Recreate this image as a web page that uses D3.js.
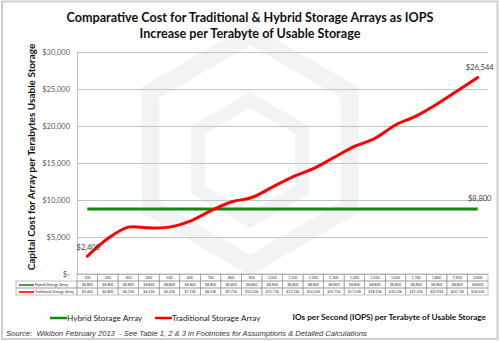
<!DOCTYPE html>
<html><head><meta charset="utf-8">
<script src="https://cdn.jsdelivr.net/npm/d3@7"></script>
<style>body{margin:0;background:#fff}svg{display:block}</style>
</head><body><svg id="c" width="500" height="341"></svg>
<script>
const categories = [100,200,300,400,500,600,700,800,900,1000,1100,1200,1300,1400,1500,1600,1700,1800,1900,2000];
const hybridValues = [8800,8800,8800,8800,8800,8800,8800,8800,8800,8800,8800,8800,8800,8800,8800,8800,8800,8800,8800,8800];
const traditionalValues = [2400,4800,6336,6236,6336,7136,8536,9736,10336,11736,13136,14236,15736,17236,18336,20136,21336,22936,24736,26544];
const yTicks = [0,5000,10000,15000,20000,25000,30000];
const seriesNames = ["Hybrid Storage Array","Traditional Storage Array"];
const seriesColors = ["#128a12","#ff0000"];

(function(){
const svg = d3.select("#c");
const pL=77,pR=488,pT=52,pB=274;
const x = d3.scaleBand().domain(categories).range([pL,pR]);
const y = d3.scaleLinear().domain([0,30000]).range([pB,pT]);
const fmt = d3.format(",");
const money = v => v===0 ? "$-" : "$"+fmt(v);
const font = "Lato, 'Open Sans', sans-serif";

// frame
svg.append("rect").attr("x",2).attr("y",1.5).attr("width",495.5).attr("height",337.5)
  .attr("fill","#fff").attr("stroke","#cfcfcf").attr("stroke-width",2);

// watermark
const wm = svg.append("g").attr("fill","none").attr("stroke","#f3f3f5").attr("stroke-width",18);
const hex = (cx,cy,r)=>d3.range(6).map(i=>{const a=Math.PI/3*i-Math.PI/2;return [cx+r*Math.cos(a),cy+r*Math.sin(a)];});
wm.append("path").attr("d","M"+hex(250,150,115).join("L")+"Z");
wm.append("path").attr("d","M"+hex(250,160,60).join("L")+"Z").attr("stroke-width",14);

// title
const t = svg.append("text").attr("text-anchor","middle").attr("font-family",font)
  .attr("font-weight","bold").attr("font-size",12.6).attr("fill","#111");
t.append("tspan").attr("x",250).attr("y",22).text("Comparative Cost for Traditional & Hybrid Storage Arrays as IOPS");
t.append("tspan").attr("x",250).attr("y",38).text("Increase per Terabyte of Usable Storage");

// y axis with gridlines
const ya = svg.append("g").attr("transform",`translate(${pL},0)`)
  .call(d3.axisLeft(y).tickValues(yTicks).tickFormat(money).tickSize(-(pR-pL)).tickPadding(7));
ya.select(".domain").attr("stroke","#bdbdbd");
ya.selectAll(".tick line").attr("stroke","#c4c4c4").attr("stroke-width",1);
ya.selectAll(".tick text").attr("font-family",font).attr("font-size",7.5).attr("fill","#595959");
ya.selectAll(".tick").filter(d=>d===0).select("line").attr("stroke","none");

svg.append("text").attr("transform","translate(35,157) rotate(-90)").attr("text-anchor","middle")
  .attr("font-family",font).attr("font-weight","bold").attr("font-size",10).attr("fill","#111")
  .text("Capital Cost for Array per Terabytes Usable Storage");

// lines
const cx = d => x(d)+x.bandwidth()/2;
const line = d3.line().x((d,i)=>cx(categories[i])).y(d=>y(d));
svg.append("path").datum(hybridValues).attr("d",line).attr("fill","none")
  .attr("stroke",seriesColors[0]).attr("stroke-width",3);
svg.append("path").datum(traditionalValues).attr("d",line.curve(d3.curveCatmullRom.alpha(0.5)))
  .attr("fill","none").attr("stroke",seriesColors[1]).attr("stroke-width",3).attr("stroke-linecap","round");

// data labels
const lab = (xx,yy,txt,anchor)=>svg.append("text").attr("x",xx).attr("y",yy).attr("text-anchor",anchor||"middle")
  .attr("font-family",font).attr("font-size",7.5).attr("fill","#404040").text(txt);
const n = categories.length-1;
lab(cx(categories[0])+1, y(traditionalValues[0])-6, money(traditionalValues[0]));
lab(cx(categories[n])+2, y(traditionalValues[n])-8, money(traditionalValues[n]));
lab(cx(categories[n])+2, y(hybridValues[n])-8, money(hybridValues[n]));

// data table
const rowH = 7, tTop = pB, labelLeft = 16;
const tg = svg.append("g").attr("font-family",font).attr("font-size",3.6).attr("fill","#333");
categories.forEach((c,i)=>{
  tg.append("rect").attr("x",x(c)).attr("y",tTop).attr("width",x.bandwidth()).attr("height",rowH)
    .attr("fill","none").attr("stroke","#9a9a9a").attr("stroke-width",0.6);
  tg.append("text").attr("x",cx(c)).attr("y",tTop+4.8).attr("text-anchor","middle").text(fmt(c));
});
[hybridValues,traditionalValues].forEach((vals,r)=>{
  const ry = tTop+rowH*(r+1);
  tg.append("rect").attr("x",labelLeft).attr("y",ry).attr("width",pL-labelLeft).attr("height",rowH)
    .attr("fill","none").attr("stroke","#9a9a9a").attr("stroke-width",0.6);
  tg.append("line").attr("x1",labelLeft+3).attr("x2",labelLeft+18).attr("y1",ry+4).attr("y2",ry+4)
    .attr("stroke",seriesColors[r]).attr("stroke-width",1.6);
  tg.append("text").attr("x",labelLeft+19).attr("y",ry+4.8).text(seriesNames[r]);
  vals.forEach((v,i)=>{
    const c = categories[i];
    tg.append("rect").attr("x",x(c)).attr("y",ry).attr("width",x.bandwidth()).attr("height",rowH)
      .attr("fill","none").attr("stroke","#9a9a9a").attr("stroke-width",0.6);
    tg.append("text").attr("x",cx(c)).attr("y",ry+4.8).attr("text-anchor","middle").text(money(v));
  });
});

// x title
svg.append("text").attr("x",486).attr("y",320).attr("text-anchor","end")
  .attr("font-family",font).attr("font-weight","bold").attr("font-size",8.2).attr("fill","#111")
  .text("IOs per Second (IOPS) per Terabyte of Usable Storage");

// legend
[[50,67],[155,172]].forEach((p,i)=>{
  svg.append("line").attr("x1",p[0]).attr("x2",p[1]).attr("y1",318).attr("y2",318)
    .attr("stroke",seriesColors[i]).attr("stroke-width",2.5);
  svg.append("text").attr("x",p[1]).attr("y",321).attr("font-family",font).attr("font-size",8.2)
    .attr("fill","#222").text(seriesNames[i]);
});

// source
svg.append("text").attr("x",6).attr("y",336).attr("font-family","'Liberation Sans', Arial, sans-serif")
  .attr("font-style","italic").attr("font-size",7.6).attr("fill","#333")
  .attr("xml:space","preserve")
  .text("Source:  Wikibon February 2013  - See Table 1, 2 & 3 in Footnotes for Assumptions & Detailed Calculations");
})();
</script></body></html>
